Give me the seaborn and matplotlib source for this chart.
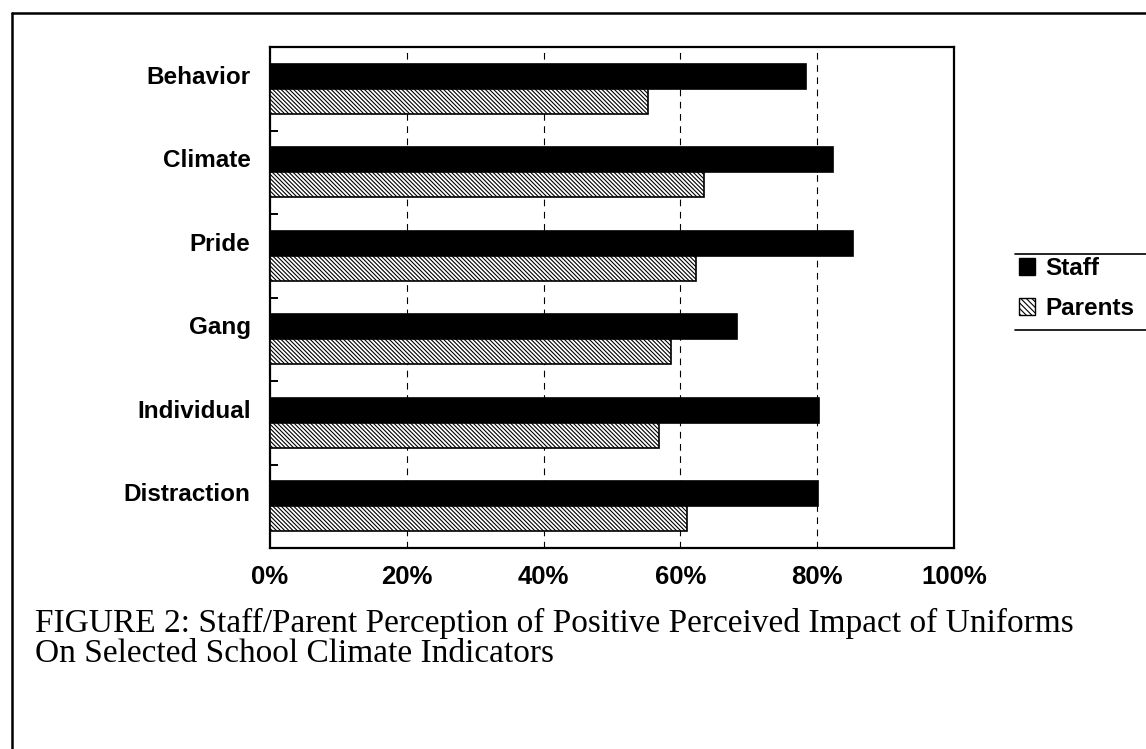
import pandas as pd
import matplotlib.pyplot as plt
import seaborn as sns
from matplotlib.patches import Patch
from matplotlib.lines import Line2D
from matplotlib.transforms import ScaledTranslation
from matplotlib.ticker import FixedLocator, PercentFormatter

# values (percent)
indicators = ["Behavior", "Climate", "Pride", "Gang", "Individual", "Distraction"]
staff = [78.4, 82.3, 85.3, 68.3, 80.3, 80.1]
parents = [55.3, 63.4, 62.3, 58.6, 56.9, 61.0]
groups = ["Staff", "Parents"]
x_ticks = [0, 20, 40, 60, 80, 100]

df = pd.DataFrame({
    "indicator": indicators * 2,
    "pct": staff + parents,
    "group": ["Staff"] * len(staff) + ["Parents"] * len(parents),
})

sns.set_style("white")
plt.rcParams["font.family"] = ["Liberation Sans", "DejaVu Sans"]
plt.rcParams["text.color"] = "black"
plt.rcParams["xtick.color"] = "black"
plt.rcParams["ytick.color"] = "black"
plt.rcParams["hatch.color"] = "black"
plt.rcParams["hatch.linewidth"] = 0.8

fig = plt.figure(figsize=(11.46, 7.49), dpi=100)
ax = fig.add_axes([270 / 1146, 201 / 749, 684 / 1146, 501 / 749])

sns.barplot(data=df, y="indicator", x="pct", hue="group", hue_order=groups,
            order=indicators, orient="h", width=0.6, ax=ax,
            palette={"Staff": "black", "Parents": "white"},
            edgecolor="black", linewidth=1.2, legend=False, zorder=3)

# hatch the parents bars
for bar in ax.containers[1]:
    bar.set_hatch("\\\\\\\\\\\\\\\\")

ax.set_xlim(0, 100)
ax.set_ylim(len(indicators) - 0.5, -0.5)
ax.set_xticks(x_ticks)
ax.xaxis.set_major_formatter(PercentFormatter(decimals=0))
ax.set_xlabel("")
ax.set_ylabel("")

# dashed vertical gridlines
for v in x_ticks[1:-1]:
    ax.axvline(v, color="black", lw=0.8, ls=(0, (6, 5)), zorder=1)

for s in ax.spines.values():
    s.set_color("black")
    s.set_linewidth(1.6)

ax.tick_params(axis="x", length=0, pad=12, labelsize=18.5)
ax.tick_params(axis="y", which="major", length=0, pad=14, labelsize=17.5)
ax.yaxis.set_minor_locator(FixedLocator([i + 0.5 for i in range(len(indicators) - 1)]))
ax.tick_params(axis="y", which="minor", direction="in", length=6, width=1.4, color="black", left=True)
for lab in ax.get_xticklabels() + ax.get_yticklabels():
    lab.set_fontweight("bold")
for lab in ax.get_yticklabels():
    lab.set_transform(lab.get_transform() + ScaledTranslation(0, 0.14, fig.dpi_scale_trans))

# legend outside, with rules above and below
handles = [Patch(facecolor="black", edgecolor="black", label="Staff"),
           Patch(facecolor="white", edgecolor="black", hatch="\\\\\\\\\\\\", label="Parents")]
fig.legend(handles=handles, loc="upper left", bbox_to_anchor=(1017 / 1146, 1 - 255 / 749),
           frameon=False, handlelength=0.65, handleheight=0.7, handletextpad=0.4,
           labelspacing=0.7, borderaxespad=0, borderpad=0.1,
           prop={"size": 17.5, "weight": "bold"})
fig.add_artist(Line2D([1015 / 1146, 1], [1 - 254 / 749] * 2, color="black", lw=1.2))
fig.add_artist(Line2D([1015 / 1146, 1], [1 - 330 / 749] * 2, color="black", lw=1.2))

# outer frame of the scanned page
fig.add_artist(Line2D([12 / 1146, 1], [1 - 13 / 749] * 2, color="black", lw=1.8))
fig.add_artist(Line2D([12 / 1146] * 2, [0, 1 - 13 / 749], color="black", lw=1.8))

caption = ["FIGURE 2: Staff/Parent Perception of Positive Perceived Impact of Uniforms",
           "On Selected School Climate Indicators"]
for i, line in enumerate(caption):
    fig.text(35 / 1146, 1 - (632 + 30 * i) / 749, line,
             family=["Liberation Serif", "DejaVu Serif"], fontsize=24,
             va="baseline", ha="left")

fig.savefig("out.png", dpi=100)
